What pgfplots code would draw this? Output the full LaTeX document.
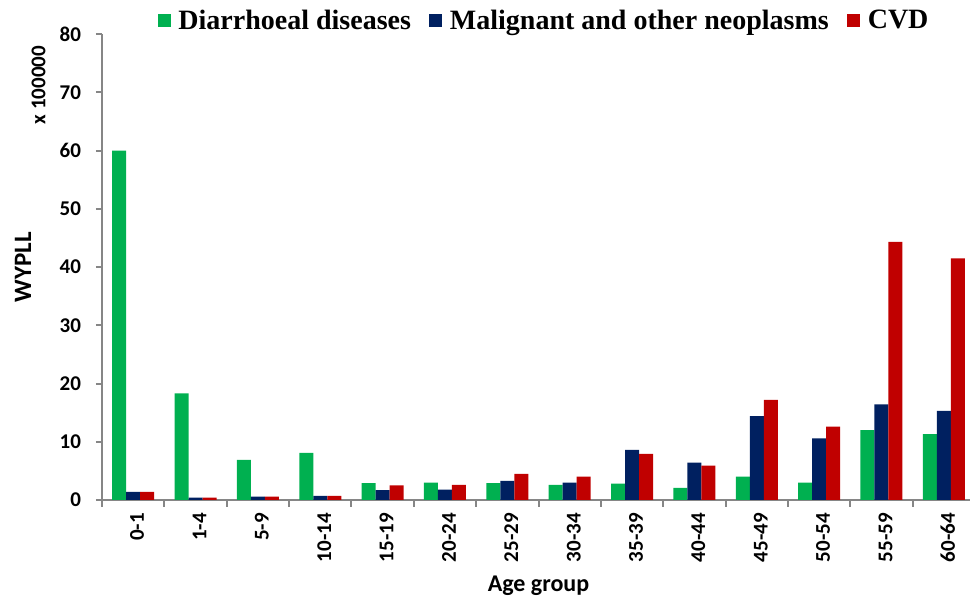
\documentclass[border=0pt]{standalone}
\usepackage{pgfplots}
\pgfplotsset{compat=1.18}
\usepackage{pgfplotstable}
\usepackage{fontspec}
\setmainfont{Carlito}
\newfontfamily\timesf{Liberation Serif}
\definecolor{cgreen}{HTML}{00B050}
\definecolor{cnavy}{HTML}{002060}
\definecolor{cred}{HTML}{C00000}
\definecolor{axgray}{HTML}{868686}
\pgfplotstableread{
x g n r
0 60.0 1.4 1.4
1 18.3 0.4 0.4
2 6.9 0.6 0.6
3 8.1 0.7 0.7
4 2.9 1.7 2.5
5 3.0 1.8 2.6
6 2.9 3.3 4.5
7 2.6 3.0 4.0
8 2.8 8.6 7.9
9 2.1 6.4 5.9
10 4.0 14.4 17.2
11 3.0 10.6 12.6
12 12.0 16.4 44.3
13 11.3 15.3 41.5
}\datatable
\pgfplotsset{sqlegend/.style={legend image code/.code={\fill[##1] (0bp,-3.25bp) rectangle (6.5bp,3.25bp);}}}
\begin{document}
\begin{tikzpicture}
\begin{axis}[
  scale only axis,
  width=436.5bp, height=233bp,
  ybar=0pt, bar width=7bp,
  xmin=-0.5, xmax=13.5,
  ymin=0, ymax=80,
  ytick={0,10,...,80},
  xtick={0,...,13},
  xticklabels={0-1,1-4,5-9,10-14,15-19,20-24,25-29,30-34,35-39,40-44,45-49,50-54,55-59,60-64},
  minor xtick={-0.5,0.5,...,13.5},
  major x tick style={draw=none},
  minor tick length=3.5bp,
  major tick length=3bp,
  tick align=outside,
  axis x line*=bottom, axis y line*=left,
  axis line style={-, draw=axgray, line width=1bp},
  tick style={draw=axgray, line width=1bp},
  /pgf/number format/assume math mode=true,
  ticklabel style={font=\bfseries\fontsize{10.5bp}{12bp}\selectfont},
  yticklabel style={xshift=-4bp},
  xticklabel style={rotate=90, anchor=east, yshift=-2bp},
  xlabel={Age group},
  xlabel style={at={(axis description cs:0.5,-0.1974)}, anchor=base, font=\bfseries\fontsize{12bp}{14bp}\selectfont},
  ylabel={WYPLL},
  ylabel style={at={(axis description cs:-0.0905,0.5)}, anchor=center, rotate=0, font=\bfseries\fontsize{12.5bp}{14bp}\selectfont},
  legend columns=-1,
  legend style={draw=none, fill=none, at={(axis description cs:0.5074,1.028)}, anchor=center, inner sep=0pt,
    font=\timesf\bfseries\fontsize{14bp}{16bp}\selectfont,
    /tikz/every even column/.append style={column sep=7bp},
    /tikz/every odd column/.append style={column sep=2bp}},
  legend cell align=left,
  clip=false,
]
\addplot[fill=cgreen, draw=none, sqlegend] table[x=x, y=g] {\datatable};
\addplot[fill=cnavy, draw=none, sqlegend] table[x=x, y=n] {\datatable};
\addplot[fill=cred, draw=none, sqlegend] table[x=x, y=r] {\datatable};
\legend{Diarrhoeal diseases, Malignant and other neoplasms, CVD}
\node[rotate=90, font=\bfseries\fontsize{10.5bp}{12bp}\selectfont] at (axis description cs:-0.0727,0.8906) {x 100000};
\coordinate (bbsw) at (axis description cs:-0.11684,-0.2103);
\coordinate (bbne) at (axis description cs:0.99427,1.07296);
\end{axis}
\pgfresetboundingbox
\useasboundingbox (bbsw) rectangle (bbne);
\end{tikzpicture}
\end{document}
